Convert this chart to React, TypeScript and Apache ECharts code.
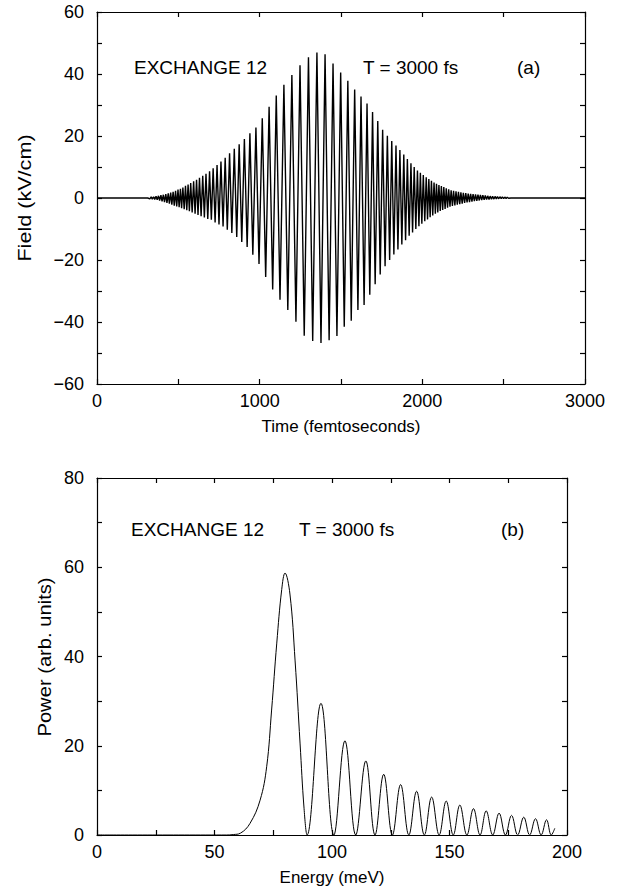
import React, { useEffect, useRef } from "react";
import * as echarts from "echarts";

// ---------- Panel (a): field vs time — oscillation extrema (time fs, field kV/cm) ----------
const fieldQuietT = [0, 312, 2545, 3000];
const fieldQuietV = [0, 0, 0, 0];

const leftWingT = [325, 333, 340, 348, 355, 363, 370, 378, 385, 393, 400, 408, 415, 423, 430, 438, 445, 453, 460, 468, 475, 483, 490, 498, 505, 513, 520, 528, 536, 544, 552, 560, 568, 576, 585, 594, 603, 612, 621, 630, 640, 650, 660, 670, 681, 692, 703];
const leftWingV = [-0.3, 0.35, -0.35, 0.4, -0.45, 0.55, -0.6, 0.7, -0.8, 0.9, -1.05, 1.05, -1.3, 1.25, -1.55, 1.5, -1.85, 1.75, -2.15, 2.0, -2.45, 2.35, -2.75, 2.7, -3.0, 3.0, -3.3, 3.4, -3.65, 3.9, -3.95, 4.35, -4.3, 4.8, -4.7, 5.4, -5.05, 5.9, -5.45, 6.5, -5.85, 7.15, -6.25, 7.8, -6.75, 8.65, -7.0];

const coreT = [714, 726, 738, 750, 762, 775, 788, 801, 815, 829, 844, 859, 874, 890, 906, 923, 940, 958, 977, 996, 1016, 1037, 1058, 1080, 1102, 1125, 1149, 1173, 1198, 1223, 1248, 1274, 1300, 1326, 1352, 1377, 1402, 1427, 1451, 1475, 1498, 1520, 1542, 1563, 1584, 1604, 1623, 1642, 1660, 1677, 1694, 1710, 1726, 1741, 1756, 1771, 1785, 1799, 1812, 1825, 1838, 1850, 1862, 1874, 1886, 1897, 1908, 1919, 1930, 1940, 1950, 1960, 1970, 1979, 1988, 1997, 2006, 2015, 2024, 2032, 2040, 2048, 2056, 2064, 2072, 2080];
const coreV = [9.55, -7.9, 10.6, -8.55, 11.75, -9.2, 13.0, -10.2, 14.4, -11.3, 15.9, -12.6, 17.35, -14.2, 19.0, -15.8, 20.85, -18.3, 22.7, -21.3, 25.7, -25.5, 29.4, -29.5, 33.1, -32.8, 36.5, -36.1, 39.7, -39.9, 42.8, -44.4, 45.4, -46.1, 46.9, -46.8, 46.4, -45.9, 43.4, -44.5, 40.5, -41.5, 37.8, -39.6, 35.0, -36.1, 32.7, -34.5, 30.5, -31.2, 27.7, -27.8, 24.8, -24.7, 22.0, -22.0, 20.1, -20.0, 18.4, -18.2, 16.9, -16.6, 15.5, -15.0, 14.0, -13.6, 12.6, -12.2, 11.2, -11.1, 10.0, -10.0, 8.85, -9.1, 8.1, -8.3, 7.4, -7.5, 6.7, -6.9, 6.1, -6.2, 5.55, -5.6, 5.0, -5.1];

const rightWingT = [2087, 2095, 2102, 2110, 2117, 2125, 2132, 2140, 2147, 2155, 2162, 2170, 2177, 2185, 2192, 2200, 2207, 2215, 2222, 2230, 2237, 2245, 2252, 2260, 2267, 2275, 2282, 2290, 2297, 2305, 2312, 2320, 2327, 2335, 2342, 2350, 2357, 2365, 2372, 2380, 2387, 2395, 2402, 2410, 2417, 2425, 2432, 2440, 2447, 2455, 2462, 2470, 2477, 2485, 2492, 2500, 2507, 2515, 2522, 2530];
const rightWingV = [4.6, -4.7, 4.2, -4.2, 3.85, -3.85, 3.5, -3.5, 3.1, -3.1, 2.8, -2.8, 2.5, -2.6, 2.35, -2.4, 2.15, -2.15, 2.0, -2.0, 1.85, -1.8, 1.7, -1.6, 1.55, -1.45, 1.45, -1.3, 1.35, -1.15, 1.25, -1.0, 1.15, -0.9, 1.1, -0.8, 1.0, -0.7, 0.9, -0.6, 0.8, -0.5, 0.7, -0.45, 0.6, -0.4, 0.55, -0.35, 0.5, -0.3, 0.45, -0.25, 0.4, -0.2, 0.35, -0.2, 0.3, -0.15, 0.25, -0.1];

// ---------- Panel (b): power spectrum (energy meV, power arb. units) ----------
const mainLobeE = [0, 55, 58, 61, 65.1, 69.4, 72.2, 74.3, 76.5, 78.6, 80, 82.1, 84.3, 86.4, 88.1, 89.4];
const mainLobeP = [0, 0, 0.1, 0.4, 2.6, 7.8, 15.3, 28, 43, 55, 58.7, 54, 39, 20.6, 6, 0];

const lobePeakE = [95.3, 105.5, 114.4, 122, 129.2, 136, 142.4, 148.6, 154.4, 160.2, 165.6, 171.1, 176.4, 181.6, 186.6, 191.3];
const lobePeakP = [29.5, 21.1, 16.6, 13.6, 11.3, 9.8, 8.5, 7.6, 6.7, 5.9, 5.4, 4.9, 4.4, 4.0, 3.65, 3.4];
const lobeZeroE = [100.8, 110.1, 118.3, 125.7, 132.7, 139.3, 145.6, 151.6, 157.4, 163.0, 168.4, 173.8, 179.0, 184.1, 189.0, 193.3];
const tailE = [194.8];
const tailP = [1.5];

// ---------- tick labels ----------
const timeLabels = [0, 1000, 2000, 3000];
const fieldLabels = [-60, -40, -20, 0, 20, 40, 60];
const energyLabels = [0, 50, 100, 150, 200];
const powerLabels = [0, 20, 40, 60, 80];

const FONT = "Liberation Sans, Arial, Helvetica, sans-serif";

function fmt(list: number[]) {
  return (v: number) =>
    list.indexOf(v) >= 0 ? (v < 0 ? "\u2212" + Math.abs(v) : String(v)) : "";
}

function buildField() {
  const pts: [number, number][] = [];
  const add = (ts: number[], vs: number[]) => ts.forEach((t, i) => pts.push([t, vs[i]]));
  add(fieldQuietT, fieldQuietV);
  add(leftWingT, leftWingV);
  add(coreT, coreV);
  add(rightWingT, rightWingV);
  pts.sort((a, b) => a[0] - b[0]);
  return pts;
}

function buildSpectrum() {
  const pts: [number, number][] = [];
  mainLobeE.forEach((e, i) => pts.push([e, mainLobeP[i]]));
  lobePeakE.forEach((e, i) => {
    pts.push([e, lobePeakP[i]]);
    pts.push([lobeZeroE[i], 0]);
  });
  tailE.forEach((e, i) => pts.push([e, tailP[i]]));
  return pts;
}

const axisLine = { show: true, onZero: false, lineStyle: { color: "#000", width: 1.2 } };
const tick = { show: true, inside: true, length: 5, lineStyle: { color: "#000", width: 1.2 } };
const labelStyle = { color: "#000", fontSize: 18, fontFamily: FONT };
const nameStyle = { color: "#000", fontSize: 17, fontFamily: FONT };

function xAxes(gridIndex: number, min: number, max: number, interval: number, labels: number[], name: string) {
  return [
    {
      type: "value", gridIndex, min, max, interval, position: "bottom",
      axisLine, axisTick: tick, splitLine: { show: false },
      axisLabel: { ...labelStyle, interval: 0, margin: 8, formatter: fmt(labels), showMinLabel: true, showMaxLabel: true },
      name, nameLocation: "middle", nameGap: 34, nameTextStyle: nameStyle,
    },
    {
      type: "value", gridIndex, min, max, interval, position: "top",
      axisLine, axisTick: tick, splitLine: { show: false }, axisLabel: { show: false },
    },
  ];
}

function yAxes(gridIndex: number, min: number, max: number, interval: number, labels: number[]) {
  return [
    {
      type: "value", gridIndex, min, max, interval, position: "left",
      axisLine, axisTick: tick, splitLine: { show: false },
      axisLabel: { ...labelStyle, interval: 0, margin: 13, formatter: fmt(labels), showMinLabel: true, showMaxLabel: true },
    },
    {
      type: "value", gridIndex, min, max, interval, position: "right",
      axisLine, axisTick: tick, splitLine: { show: false }, axisLabel: { show: false },
    },
  ];
}

function annot(x: number, y: number, text: string) {
  return {
    type: "text", x, y,
    style: { text, fill: "#000", fontSize: 19, fontFamily: FONT, verticalAlign: "middle" },
  };
}

function yName(x: number, y: number, text: string, stretch: number) {
  return {
    type: "text", x, y, rotation: Math.PI / 2, scaleX: stretch,
    style: { text, fill: "#000", fontSize: 18, fontFamily: FONT, align: "center", verticalAlign: "middle" },
  };
}

export default function App() {
  const ref = useRef<HTMLDivElement>(null);
  useEffect(() => {
    if (!ref.current) return;
    const chart = echarts.init(ref.current, null, { renderer: "svg" });
    chart.setOption({
      animation: false,
      backgroundColor: "#fff",
      grid: [
        { left: 97, top: 12, width: 488, height: 372 },
        { left: 97, top: 478, width: 470, height: 357 },
      ],
      xAxis: [
        ...xAxes(0, 0, 3000, 500, timeLabels, "Time (femtoseconds)"),
        ...xAxes(1, 0, 200, 25, energyLabels, "Energy (meV)"),
      ],
      yAxis: [
        ...yAxes(0, -60, 60, 10, fieldLabels),
        ...yAxes(1, 0, 80, 10, powerLabels),
      ],
      series: [
        {
          type: "line", xAxisIndex: 0, yAxisIndex: 0, data: buildField(),
          showSymbol: false, symbol: "none", lineStyle: { color: "#000", width: 1.4 },
          smooth: false,
        },
        {
          type: "line", xAxisIndex: 2, yAxisIndex: 2, data: buildSpectrum(),
          showSymbol: false, symbol: "none", lineStyle: { color: "#000", width: 1 },
          smooth: 0.4,
        },
      ],
      graphic: [
        annot(134, 67, "EXCHANGE 12"),
        annot(363, 67, "T = 3000 fs"),
        annot(517, 67, "(a)"),
        annot(131, 529, "EXCHANGE 12"),
        annot(299, 529, "T = 3000 fs"),
        annot(501, 529, "(b)"),
        yName(25, 198, "Field (kV/cm)", 1.2),
        yName(45, 657, "Power (arb. units)", 1.12),
      ],
    });
    return () => chart.dispose();
  }, []);
  return <div ref={ref} style={{ width: 624, height: 890, position: "absolute", left: 0, top: 0, background: "#fff" }} />;
}
